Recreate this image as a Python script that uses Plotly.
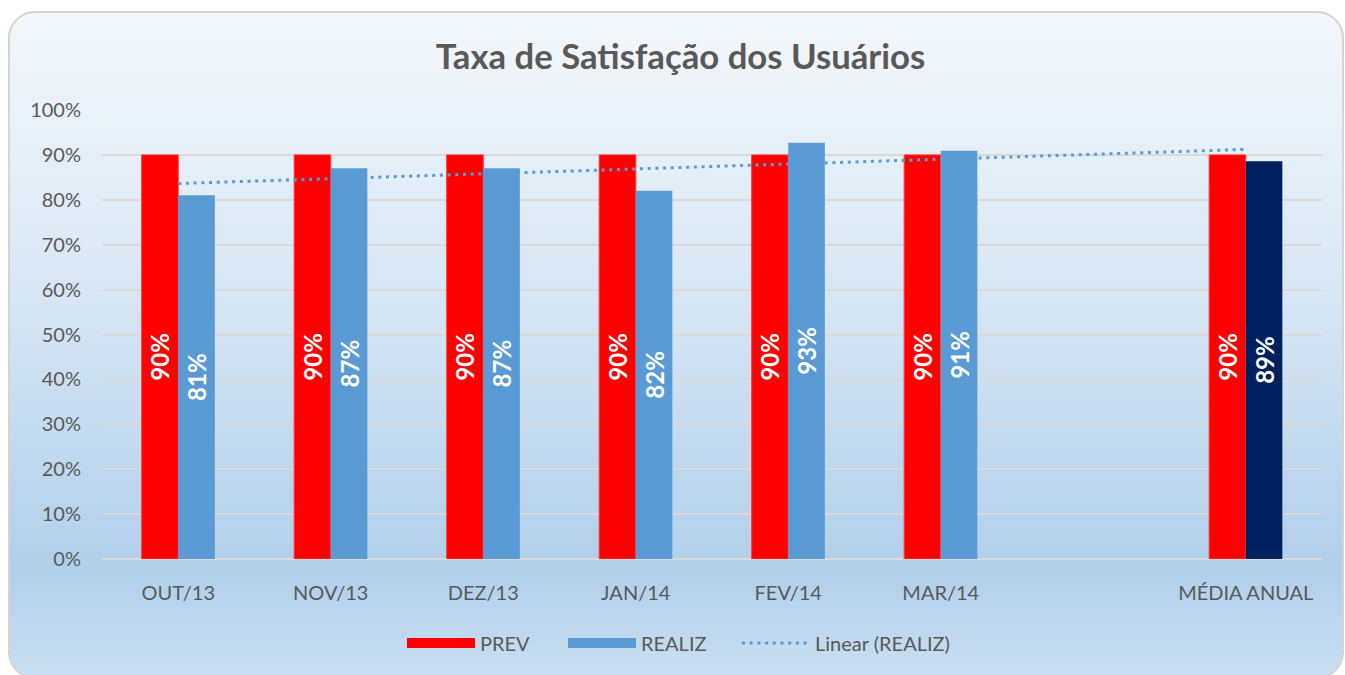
import numpy as np
import plotly.graph_objects as go

# ---------------- data ----------------
categories = ["OUT/13", "NOV/13", "DEZ/13", "JAN/14", "FEV/14", "MAR/14", " ", "MÉDIA ANUAL"]
prev = [90, 90, 90, 90, 90, 90, None, 90]
realiz = [81, 87, 87, 82, 92.7, 90.9, None, 88.6]
realiz_colors = ["#5b9bd5"] * 7 + ["#002060"]
y_ticks = [0, 10, 20, 30, 40, 50, 60, 70, 80, 90, 100]
y_tick_text = [f"{v}%" for v in y_ticks]

W, H = 1345, 675
FONT = "Lato, 'Open Sans', sans-serif"
GRAY = "#595959"

# linear trendline (least squares over category index)
idx = [i for i, v in enumerate(realiz) if v is not None]
vals = [realiz[i] for i in idx]
slope, intercept = np.polyfit(idx, vals, 1)
trend = [slope * i + intercept for i in range(len(categories))]


def px(x):
    return x / W


def py(y):
    return 1 - y / H


fig = go.Figure()
fig.add_trace(go.Bar(
    x=categories, y=prev, name="PREV", marker=dict(color="#ff0000", line=dict(color="#ff3b3b", width=1)),
    text=[f"{v:.0f}%" if v is not None else "" for v in prev],
    textposition="inside", insidetextanchor="middle", textangle=-90, constraintext="none",
    textfont=dict(color="white", size=24, family=FONT, weight="bold"),
    showlegend=False, hoverinfo="skip",
))
fig.add_trace(go.Bar(
    x=categories, y=realiz, name="REALIZ", marker=dict(color=realiz_colors, line=dict(width=0)),
    text=[f"{v:.0f}%" if v is not None else "" for v in realiz],
    textposition="inside", insidetextanchor="middle", textangle=-90, constraintext="none",
    textfont=dict(color="white", size=24, family=FONT, weight="bold"),
    showlegend=False, hoverinfo="skip",
))
fig.add_trace(go.Scatter(
    x=categories, y=trend, mode="lines", name="Linear (REALIZ)",
    line=dict(color="#5b9bd5", width=3, dash="3px,4.7px"), showlegend=False, hoverinfo="skip",
))
# legend entries (one legend each, so they can be spaced like the original)
fig.add_trace(go.Scatter(x=[None], y=[None], mode="lines", name="PREV", legend="legend",
                         line=dict(color="#ff0000", width=16)))
fig.add_trace(go.Scatter(x=[None], y=[None], mode="lines", name="REALIZ", legend="legend2",
                         line=dict(color="#5b9bd5", width=16)))
fig.add_trace(go.Scatter(x=[None], y=[None], mode="lines", name="Linear (REALIZ)", legend="legend3",
                         line=dict(color="#5b9bd5", width=3, dash="3px,4.7px")))

# ---------------- background gradient ----------------
shapes = []
top, bottom, left, right, r = 12, 678, 9, 1343, 26
stops = [(12, (244, 248, 252)), (300, (215, 230, 244)), (570, (177, 207, 234)), (678, (203, 223, 241))]


def col_at(y):
    for (y0, c0), (y1, c1) in zip(stops[:-1], stops[1:]):
        if y0 <= y <= y1:
            t = (y - y0) / (y1 - y0)
            return tuple(int(round(a + (b - a) * t)) for a, b in zip(c0, c1))
    return stops[-1][1]


step = 4
y = top
while y < bottom:
    c = col_at(y + step / 2)
    shapes.append(dict(type="rect", xref="paper", yref="paper", layer="below",
                       x0=px(left), x1=px(right), y0=py(y), y1=py(min(y + step + 0.6, bottom)),
                       fillcolor="rgb(%d,%d,%d)" % c, line=dict(width=0)))
    y += step

k = 0.5523 * r


def P(x, y):
    return f"{px(x):.6f},{py(y):.6f}"


# corner masks
masks = [
    f"M{P(left-2, top-2)} L{P(left+r, top-2)} L{P(left+r, top)} C{P(left+r-k, top)} {P(left, top+r-k)} {P(left, top+r)} L{P(left-2, top+r)} Z",
    f"M{P(right+2, top-2)} L{P(right-r, top-2)} L{P(right-r, top)} C{P(right-r+k, top)} {P(right, top+r-k)} {P(right, top+r)} L{P(right+2, top+r)} Z",
    f"M{P(left-2, bottom+2)} L{P(left+r, bottom+2)} L{P(left+r, bottom)} C{P(left+r-k, bottom)} {P(left, bottom-r+k)} {P(left, bottom-r)} L{P(left-2, bottom-r)} Z",
    f"M{P(right+2, bottom+2)} L{P(right-r, bottom+2)} L{P(right-r, bottom)} C{P(right-r+k, bottom)} {P(right, bottom-r+k)} {P(right, bottom-r)} L{P(right+2, bottom-r)} Z",
]
for m in masks:
    shapes.append(dict(type="path", xref="paper", yref="paper", layer="below", path=m,
                       fillcolor="white", line=dict(width=0)))

border = (f"M{P(left+r, top)} L{P(right-r, top)} C{P(right-r+k, top)} {P(right, top+r-k)} {P(right, top+r)} "
          f"L{P(right, bottom-r)} C{P(right, bottom-r+k)} {P(right-r+k, bottom)} {P(right-r, bottom)} "
          f"L{P(left+r, bottom)} C{P(left+r-k, bottom)} {P(left, bottom-r+k)} {P(left, bottom-r)} "
          f"L{P(left, top+r)} C{P(left, top+r-k)} {P(left+r-k, top)} {P(left+r, top)} Z")
shapes.append(dict(type="path", xref="paper", yref="paper", layer="below", path=border,
                   line=dict(color="#d4d4d4", width=2)))

legend_style = dict(orientation="h", xanchor="left", y=py(643), yanchor="middle",
                    font=dict(size=20, color=GRAY, family=FONT), bgcolor="rgba(0,0,0,0)", itemwidth=68)

fig.update_layout(
    width=W, height=H,
    margin=dict(l=0, r=0, t=0, b=0),
    paper_bgcolor="white", plot_bgcolor="rgba(0,0,0,0)",
    font=dict(family=FONT, color=GRAY, size=18),
    title=dict(text="<b>Taxa de Satisfação dos Usuários</b>", x=0.506, xanchor="center",
               y=py(57), yanchor="middle", yref="paper",
               font=dict(size=34.7, color=GRAY, family=FONT)),
    barmode="group", bargap=0.52, bargroupgap=0,
    xaxis=dict(domain=[px(102), px(1322)], type="category", categoryorder="array",
               categoryarray=categories, showgrid=False, showline=False, ticks="",
               tickfont=dict(size=20, color=GRAY), automargin=False, fixedrange=True,
               ticklabelstandoff=20),
    yaxis=dict(domain=[py(559), py(110)], range=[0, 100], tickmode="array",
               tickvals=y_ticks, ticktext=y_tick_text,
               showgrid=True, gridcolor="#d9d9d9", gridwidth=2, zeroline=True,
               zerolinecolor="#d9d9d9", zerolinewidth=2, showline=False, ticks="",
               tickfont=dict(size=20, color=GRAY), automargin=False, fixedrange=True,
               ticklabelstandoff=20),
    legend=dict(x=px(402), **legend_style),
    legend2=dict(x=px(563), **legend_style),
    legend3=dict(x=px(737), **legend_style),
    shapes=shapes,
    showlegend=True,
)

fig.write_html("out.html", post_script="document.body.style.margin='0';",
               config={"displayModeBar": False})
